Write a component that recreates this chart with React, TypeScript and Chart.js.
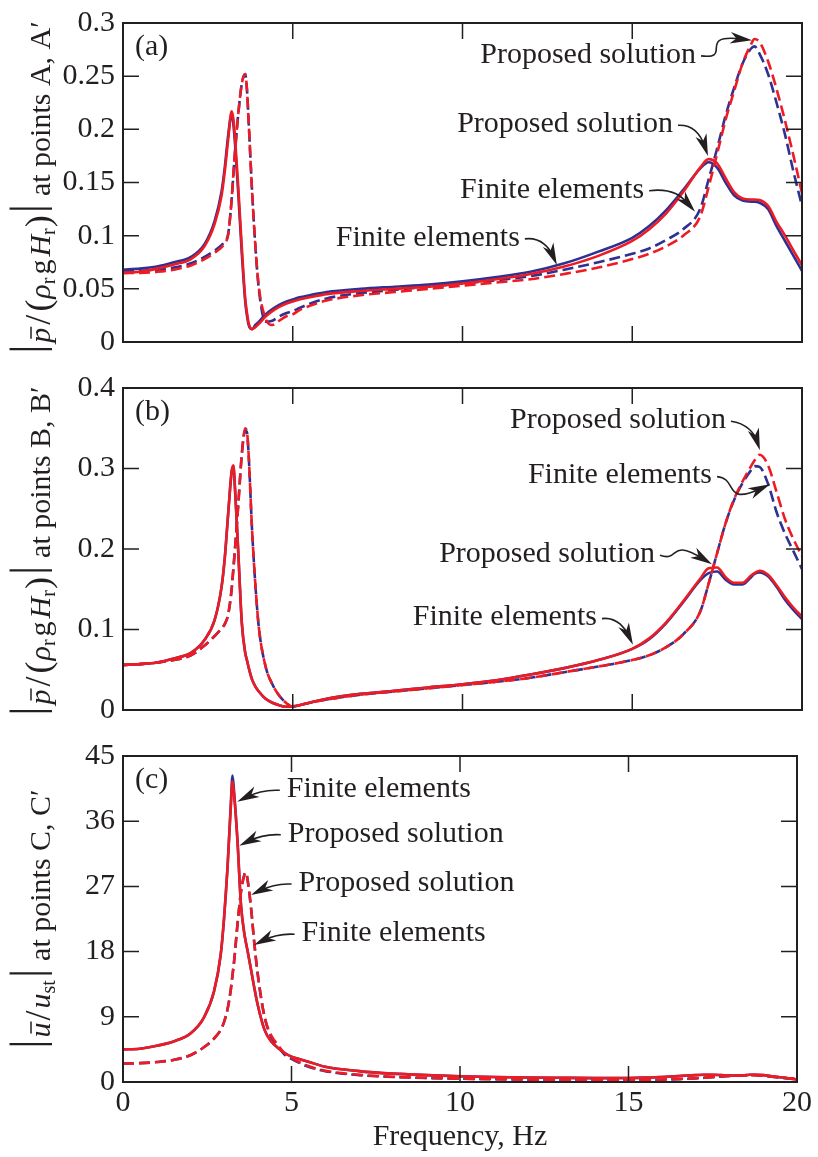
import React, { useEffect, useRef } from 'react';
import { Chart, registerables } from 'chart.js';

Chart.register(...registerables);

const FONT = "'Liberation Serif', 'Times New Roman', Times, serif";
const INK = '#231f20';
const BLUE = '#2e3192';
const RED = '#ed1c24';
const TICK = 16;
const FS = 30;

// ---------- data ----------
const freq = [
  0, 0.5, 1, 1.5, 2,
  2.4, 2.7, 2.9, 3.0, 3.1,
  3.2, 3.25, 3.3, 3.4, 3.5,
  3.6, 3.65, 3.7, 3.8, 3.9,
  4.0, 4.2, 4.4, 4.6, 4.8,
  5.0, 5.2, 5.5, 6, 7,
  8, 9, 10, 11, 12,
  13, 14, 15, 15.5, 16,
  16.5, 17, 17.25, 17.5, 17.75,
  18, 18.25, 18.5, 18.6, 18.75,
  19, 19.25, 19.5, 19.75, 20,
];

const xTicks = [0, 5, 10, 15, 20];
const xTitle = 'Frequency, Hz';

// panel (a)
const aTicks = [0, 0.05, 0.1, 0.15, 0.2, 0.25, 0.3];
const aBlueSolid = [
  0.068, 0.069, 0.071, 0.075, 0.080,
  0.092, 0.114, 0.141, 0.165, 0.195,
  0.214, 0.205, 0.186, 0.137, 0.083,
  0.038, 0.025, 0.016, 0.012, 0.016,
  0.019, 0.026, 0.031, 0.035, 0.038,
  0.040, 0.042, 0.044, 0.047, 0.050,
  0.052, 0.054, 0.057, 0.061, 0.066,
  0.074, 0.085, 0.098, 0.109, 0.124,
  0.143, 0.163, 0.169, 0.164, 0.150,
  0.138, 0.133, 0.132, 0.132, 0.131,
  0.125, 0.109, 0.095, 0.081, 0.067,
];
const aRedSolid = [
  0.065, 0.066, 0.069, 0.073, 0.078,
  0.090, 0.111, 0.137, 0.161, 0.191,
  0.217, 0.210, 0.192, 0.143, 0.089,
  0.041, 0.028, 0.018, 0.012, 0.014,
  0.017, 0.024, 0.029, 0.033, 0.036,
  0.038, 0.040, 0.042, 0.045, 0.048,
  0.050, 0.052, 0.055, 0.059, 0.064,
  0.071, 0.081, 0.095, 0.106, 0.121,
  0.141, 0.164, 0.172, 0.168, 0.154,
  0.141, 0.135, 0.134, 0.134, 0.1335,
  0.128, 0.113, 0.100, 0.086, 0.072,
];
const aBlueDash = [
  0.067, 0.067, 0.068, 0.070, 0.074,
  0.080, 0.086, 0.091, 0.095, 0.102,
  0.134, 0.157, 0.179, 0.216, 0.243,
  0.252, 0.238, 0.208, 0.143, 0.090,
  0.050, 0.019, 0.020, 0.024, 0.027,
  0.029, 0.032, 0.036, 0.041, 0.046,
  0.049, 0.052, 0.055, 0.058, 0.062,
  0.068, 0.075, 0.083, 0.088, 0.096,
  0.106, 0.125, 0.153, 0.182, 0.213,
  0.239, 0.262, 0.276, 0.278, 0.271,
  0.252, 0.225, 0.195, 0.160, 0.128,
];
const aRedDash = [
  0.065, 0.065, 0.066, 0.068, 0.072,
  0.078, 0.084, 0.089, 0.093, 0.101,
  0.134, 0.157, 0.179, 0.216, 0.243,
  0.252, 0.238, 0.208, 0.143, 0.090,
  0.052, 0.022, 0.016, 0.020, 0.024,
  0.026, 0.030, 0.034, 0.039, 0.044,
  0.047, 0.050, 0.053, 0.056, 0.059,
  0.064, 0.070, 0.078, 0.083, 0.090,
  0.100, 0.118, 0.146, 0.177, 0.209,
  0.236, 0.262, 0.280, 0.285, 0.282,
  0.264, 0.238, 0.208, 0.175, 0.140,
];

// panel (b)
const bTicks = [0, 0.1, 0.2, 0.3, 0.4];
const bBlueSolid = [
  0.056, 0.057, 0.059, 0.064, 0.071,
  0.087, 0.112, 0.152, 0.190, 0.245,
  0.296, 0.303, 0.274, 0.192, 0.108,
  0.071, 0.062, 0.053, 0.038, 0.029,
  0.023, 0.014, 0.009, 0.006, 0.004,
  0.0045, 0.006, 0.009, 0.014, 0.020,
  0.024, 0.028, 0.032, 0.037, 0.044,
  0.052, 0.062, 0.076, 0.088, 0.108,
  0.134, 0.161, 0.170, 0.172, 0.162,
  0.156, 0.156, 0.165, 0.169, 0.171,
  0.166, 0.153, 0.137, 0.124, 0.113,
];
const bRedSolid = [
  0.056, 0.057, 0.059, 0.064, 0.071,
  0.087, 0.112, 0.152, 0.190, 0.245,
  0.296, 0.304, 0.275, 0.192, 0.108,
  0.071, 0.062, 0.053, 0.038, 0.029,
  0.023, 0.014, 0.009, 0.006, 0.004,
  0.0045, 0.006, 0.009, 0.014, 0.020,
  0.024, 0.028, 0.032, 0.037, 0.044,
  0.052, 0.062, 0.076, 0.089, 0.109,
  0.135, 0.163, 0.176, 0.177, 0.165,
  0.158, 0.158, 0.167, 0.170, 0.173,
  0.168, 0.155, 0.140, 0.127, 0.116,
];
const bBlueDash = [
  0.056, 0.057, 0.059, 0.062, 0.068,
  0.080, 0.092, 0.101, 0.107, 0.119,
  0.150, 0.175, 0.201, 0.258, 0.318,
  0.347, 0.345, 0.318, 0.225, 0.155,
  0.103, 0.054, 0.032, 0.018, 0.009,
  0.004, 0.006, 0.009, 0.013, 0.019,
  0.023, 0.027, 0.031, 0.035, 0.040,
  0.047, 0.054, 0.062, 0.068, 0.078,
  0.094, 0.122, 0.157, 0.195, 0.232,
  0.261, 0.282, 0.298, 0.303, 0.302,
  0.281, 0.246, 0.219, 0.197, 0.175,
];
const bRedDash = [
  0.056, 0.057, 0.059, 0.062, 0.068,
  0.080, 0.092, 0.101, 0.107, 0.119,
  0.150, 0.175, 0.201, 0.258, 0.318,
  0.350, 0.346, 0.318, 0.225, 0.155,
  0.103, 0.054, 0.032, 0.018, 0.009,
  0.004, 0.006, 0.009, 0.013, 0.019,
  0.023, 0.027, 0.031, 0.035, 0.040,
  0.047, 0.054, 0.062, 0.068, 0.078,
  0.094, 0.122, 0.157, 0.195, 0.232,
  0.262, 0.284, 0.303, 0.310, 0.317,
  0.304, 0.271, 0.237, 0.212, 0.191,
];

// panel (c)
const cTicks = [0, 9, 18, 27, 36, 45];
const cBlueSolid = [
  4.5, 4.6, 5.0, 5.6, 6.7,
  8.9, 12.5, 17.6, 22.7, 29.5,
  38.5, 42.3, 39.8, 33.1, 24.5,
  20.5, 19.2, 18.0, 15.5, 12.9,
  10.6, 7.2, 5.6, 4.7, 4.0,
  3.5, 3.2, 2.8, 2.1, 1.5,
  1.15, 0.95, 0.8, 0.7, 0.63,
  0.58, 0.54, 0.55, 0.6, 0.7,
  0.82, 0.95, 1.0, 1.0, 0.95,
  0.9, 0.88, 0.95, 1.0, 1.0,
  0.95, 0.8, 0.65, 0.5, 0.35,
];
const cRedSolid = [
  4.5, 4.6, 5.0, 5.6, 6.7,
  8.9, 12.5, 17.6, 22.7, 29.5,
  38.0, 41.5, 39.5, 33.0, 24.5,
  20.5, 19.2, 18.0, 15.5, 12.9,
  10.6, 7.2, 5.6, 4.7, 4.0,
  3.5, 3.2, 2.8, 2.1, 1.5,
  1.15, 0.95, 0.8, 0.7, 0.63,
  0.58, 0.54, 0.55, 0.6, 0.7,
  0.82, 0.95, 1.0, 1.0, 0.95,
  0.9, 0.88, 0.95, 1.0, 1.0,
  0.95, 0.8, 0.65, 0.5, 0.35,
];
const cBlueDash = [
  2.55, 2.6, 2.75, 3.05, 3.7,
  4.8, 6.0, 7.2, 8.3, 10.0,
  12.8, 14.8, 16.8, 21.9, 26.2,
  28.6, 28.9, 27.8, 24.0, 19.0,
  14.8, 9.0, 6.2, 4.9, 3.75,
  3.2, 2.7, 2.1, 1.5, 0.95,
  0.7, 0.55, 0.45, 0.38, 0.33,
  0.28, 0.25, 0.25, 0.27, 0.32,
  0.4, 0.5, 0.58, 0.66, 0.74,
  0.82, 0.88, 0.93, 0.95, 0.93,
  0.85, 0.72, 0.6, 0.5, 0.42,
];
const cRedDash = [
  2.55, 2.6, 2.75, 3.05, 3.7,
  4.8, 6.0, 7.2, 8.3, 10.0,
  12.8, 14.8, 16.8, 21.9, 26.2,
  28.6, 28.9, 27.8, 24.0, 19.0,
  14.8, 9.0, 6.4, 5.1, 3.95,
  3.35, 2.8, 2.2, 1.55, 1.0,
  0.72, 0.57, 0.47, 0.4, 0.35,
  0.3, 0.27, 0.27, 0.29, 0.34,
  0.42, 0.52, 0.6, 0.68, 0.76,
  0.84, 0.9, 0.95, 0.97, 0.95,
  0.87, 0.74, 0.62, 0.52, 0.44,
];

// ---------- annotations ----------
type Note = {
  text: string;
  at: [number, number];
  align: 'left' | 'right';
  target: [number, number];
  c1: [number, number];
  c2: [number, number];
};

const notesA: Note[] = [
  { text: 'Proposed solution', at: [16.88, 0.27], align: 'right', target: [18.53, 0.2837], c1: [33, 4], c2: [-57, -7] },
  { text: 'Proposed solution', at: [16.2, 0.2048], align: 'right', target: [17.23, 0.1749], c1: [18, -1], c2: [-6, -18] },
  { text: 'Finite elements', at: [15.35, 0.1432], align: 'right', target: [16.85, 0.1224], c1: [24, -3], c2: [-13, -15] },
  { text: 'Finite elements', at: [11.69, 0.0979], align: 'right', target: [12.78, 0.0725], c1: [17, -2], c2: [-7, -16] },
];
const notesB: Note[] = [
  { text: 'Proposed solution', at: [17.76, 0.36], align: 'right', target: [18.76, 0.3227], c1: [16, 2], c2: [-5, -16] },
  { text: 'Finite elements', at: [17.35, 0.2912], align: 'right', target: [19.06, 0.2804], c1: [22, 2], c2: [-48, 22] },
  { text: 'Proposed solution', at: [15.67, 0.1934], align: 'right', target: [17.35, 0.181], c1: [21, 7], c2: [-44, -27] },
  { text: 'Finite elements', at: [13.96, 0.1148], align: 'right', target: [15.02, 0.081], c1: [16, -2], c2: [-7, -15] },
];
const notesC: Note[] = [
  { text: 'Finite elements', at: [4.86, 40.4], align: 'left', target: [3.39, 38.7], c1: [-16, -1], c2: [14, -7] },
  { text: 'Proposed solution', at: [4.89, 34.26], align: 'left', target: [3.45, 32.6], c1: [-16, -1], c2: [14, -7] },
  { text: 'Proposed solution', at: [5.21, 27.46], align: 'left', target: [3.8, 25.8], c1: [-16, -1], c2: [14, -7] },
  { text: 'Finite elements', at: [5.3, 20.53], align: 'left', target: [3.89, 18.9], c1: [-16, -1], c2: [14, -7] },
];

// ---------- rich axis titles ----------
type Seg = { t: string; it?: boolean; size?: number; dy?: number; gap?: number; bar?: boolean };

const titleA: Seg[] = [
  { t: '|', size: 46, dy: -8, gap: 2 },
  { t: 'p', it: true, bar: true, gap: 3 },
  { t: '/', size: 36, gap: 3 },
  { t: '(', size: 36, gap: 1 },
  { t: 'ρ', it: true },
  { t: 'r', size: 20, dy: 5, gap: 3 },
  { t: 'g', gap: 3 },
  { t: 'H', it: true },
  { t: 'r', size: 20, dy: 5, gap: 1 },
  { t: ')', size: 36, gap: 2 },
  { t: '|', size: 46, dy: -8, gap: 8 },
  { t: 'at points A, A′' },
];
const titleB: Seg[] = titleA.slice(0, 11).concat([{ t: 'at points B, B′' }]);
const titleC: Seg[] = [
  { t: '|', size: 46, dy: -8, gap: 2 },
  { t: 'u', it: true, bar: true, gap: 2 },
  { t: '/', size: 36, gap: 2 },
  { t: 'u', it: true },
  { t: 'st', size: 20, dy: 5, gap: 2 },
  { t: '|', size: 46, dy: -8, gap: 8 },
  { t: 'at points C, C′' },
];

function segFont(s: Seg) {
  return `${s.it ? 'italic ' : ''}${s.size || FS}px ${FONT}`;
}

function drawRich(ctx: CanvasRenderingContext2D, segs: Seg[], bx: number, cy: number) {
  const widths: number[] = [];
  let total = 0;
  for (const s of segs) {
    ctx.font = segFont(s);
    const w = ctx.measureText(s.t).width + (s.gap || 0);
    widths.push(w);
    total += w;
  }
  ctx.save();
  ctx.translate(bx, cy);
  ctx.rotate(-Math.PI / 2);
  ctx.fillStyle = INK;
  ctx.strokeStyle = INK;
  ctx.textAlign = 'left';
  ctx.textBaseline = 'alphabetic';
  let x = -total / 2;
  segs.forEach((s, i) => {
    ctx.font = segFont(s);
    ctx.fillText(s.t, x, s.dy || 0);
    if (s.bar) {
      const w = ctx.measureText(s.t).width;
      ctx.lineWidth = 1.5;
      ctx.beginPath();
      ctx.moveTo(x + 4, -19);
      ctx.lineTo(x + w + 1, -19);
      ctx.stroke();
    }
    x += widths[i];
  });
  ctx.restore();
}

function drawArrow(ctx: CanvasRenderingContext2D, sx: number, sy: number, c1x: number, c1y: number,
  c2x: number, c2y: number, ex: number, ey: number) {
  const ang = Math.atan2(ey - c2y, ex - c2x);
  const cos = Math.cos(ang), sin = Math.sin(ang);
  const L = 22, W = 5.8;
  ctx.lineWidth = 1.6;
  ctx.beginPath();
  ctx.moveTo(sx, sy);
  ctx.bezierCurveTo(c1x, c1y, c2x, c2y, ex - cos * 10, ey - sin * 10);
  ctx.stroke();
  ctx.beginPath();
  ctx.moveTo(ex, ey);
  ctx.lineTo(ex - cos * L - sin * W, ey - sin * L + cos * W);
  ctx.lineTo(ex - cos * L * 0.72, ey - sin * L * 0.72);
  ctx.lineTo(ex - cos * L + sin * W, ey - sin * L - cos * W);
  ctx.closePath();
  ctx.fill();
}

type PanelCfg = {
  key: string;
  label: string;
  top: number;
  height: number;
  padTop: number;
  axisH: number;
  yMax: number;
  yTicks: number[];
  showX: boolean;
  series: { vals: number[]; color: string; dashed: boolean }[];
  notes: Note[];
  title: Seg[];
  titleShift: number;
};

const PANELS: PanelCfg[] = [
  {
    key: 'a', label: '(a)', top: 0, height: 365, padTop: 17, axisH: 17, yMax: 0.3, yTicks: aTicks, showX: false,
    series: [
      { vals: aRedDash, color: RED, dashed: true },
      { vals: aRedSolid, color: RED, dashed: false },
      { vals: aBlueDash, color: BLUE, dashed: true },
      { vals: aBlueSolid, color: BLUE, dashed: false },
    ],
    notes: notesA, title: titleA, titleShift: 5,
  },
  {
    key: 'b', label: '(b)', top: 365, height: 368, padTop: 19, axisH: 18, yMax: 0.4, yTicks: bTicks, showX: false,
    series: [
      { vals: bRedDash, color: RED, dashed: true },
      { vals: bRedSolid, color: RED, dashed: false },
      { vals: bBlueDash, color: BLUE, dashed: true },
      { vals: bBlueSolid, color: BLUE, dashed: false },
    ],
    notes: notesB, title: titleB, titleShift: 2,
  },
  {
    key: 'c', label: '(c)', top: 733, height: 424, padTop: 18, axisH: 75, yMax: 45, yTicks: cTicks, showX: true,
    series: [
      { vals: cRedDash, color: RED, dashed: true },
      { vals: cRedSolid, color: RED, dashed: false },
      { vals: cBlueDash, color: BLUE, dashed: true },
      { vals: cBlueSolid, color: BLUE, dashed: false },
    ],
    notes: notesC, title: titleC, titleShift: 0,
  },
];

function makeDecor(cfg: PanelCfg) {
  return {
    id: 'decor_' + cfg.key,
    afterDraw(chart: any) {
      const { ctx, chartArea: a } = chart;
      const xs = chart.scales.x, ys = chart.scales.y;
      ctx.save();
      ctx.strokeStyle = INK;
      ctx.fillStyle = INK;
      ctx.lineWidth = 2;
      ctx.strokeRect(a.left, a.top, a.right - a.left, a.bottom - a.top);
      ctx.lineWidth = 1.5;
      ctx.beginPath();
      for (const t of xs.ticks) {
        const p = xs.getPixelForValue(t.value);
        if (p <= a.left + 1 || p >= a.right - 1) continue;
        ctx.moveTo(p, a.bottom); ctx.lineTo(p, a.bottom - TICK);
        ctx.moveTo(p, a.top); ctx.lineTo(p, a.top + TICK);
      }
      for (const t of ys.ticks) {
        const p = ys.getPixelForValue(t.value);
        if (p >= a.bottom - 1 || p <= a.top + 1) continue;
        ctx.moveTo(a.left, p); ctx.lineTo(a.left + TICK, p);
        ctx.moveTo(a.right, p); ctx.lineTo(a.right - TICK, p);
      }
      ctx.stroke();

      ctx.font = `${FS}px ${FONT}`;
      ctx.textBaseline = 'middle';
      ctx.textAlign = 'left';
      ctx.fillText(cfg.label, a.left + 12, a.top + 24);

      for (const n of cfg.notes) {
        const tx = xs.getPixelForValue(n.at[0]);
        const ty = ys.getPixelForValue(n.at[1]);
        ctx.font = `${FS}px ${FONT}`;
        ctx.textAlign = n.align;
        ctx.textBaseline = 'middle';
        ctx.fillText(n.text, tx, ty);
        const sx = tx + (n.align === 'right' ? 5 : -7);
        const sy = ty + 1;
        const ex = xs.getPixelForValue(n.target[0]);
        const ey = ys.getPixelForValue(n.target[1]);
        drawArrow(ctx, sx, sy, sx + n.c1[0], sy + n.c1[1], ex + n.c2[0], ey + n.c2[1], ex, ey);
      }

      drawRich(ctx, cfg.title, 50, (a.top + a.bottom) / 2 + cfg.titleShift);
      ctx.restore();
    },
  };
}

function fmt(v: number) {
  return String(+Number(v).toFixed(2));
}

function Panel({ cfg }: { cfg: PanelCfg }) {
  const ref = useRef<HTMLCanvasElement>(null);
  useEffect(() => {
    if (!ref.current) return;
    const chart = new Chart(ref.current, {
      type: 'line',
      data: {
        datasets: cfg.series.map((s) => ({
          data: freq.map((f, i) => ({ x: f, y: s.vals[i] })),
          borderColor: s.color,
          backgroundColor: s.color,
          borderWidth: 2.6,
          borderDash: s.dashed ? [11, 5] : [],
          pointRadius: 0,
          fill: false,
          cubicInterpolationMode: 'monotone' as const,
        })),
      },
      options: {
        responsive: false,
        animation: false,
        devicePixelRatio: 1,
        events: [],
        layout: { padding: { top: cfg.padTop, right: 16, bottom: 0, left: 0 } },
        plugins: { legend: { display: false }, tooltip: { enabled: false } },
        scales: {
          x: {
            type: 'linear',
            min: 0,
            max: 20,
            grid: { display: false, drawTicks: false },
            border: { display: false },
            afterBuildTicks: (s: any) => { s.ticks = xTicks.map((v) => ({ value: v })); },
            afterFit: (s: any) => { s.height = cfg.axisH; },
            ticks: {
              display: cfg.showX,
              padding: 6,
              color: INK,
              font: { family: FONT, size: FS, lineHeight: 1 },
              maxRotation: 0,
              callback: (v: any) => fmt(v),
            },
            title: {
              display: cfg.showX,
              text: xTitle,
              color: INK,
              font: { family: FONT, size: FS, lineHeight: 1.2 },
              padding: { top: 0, bottom: 2 },
            },
          },
          y: {
            type: 'linear',
            min: 0,
            max: cfg.yMax,
            grid: { display: false, drawTicks: false },
            border: { display: false },
            afterBuildTicks: (s: any) => { s.ticks = cfg.yTicks.map((v) => ({ value: v })); },
            afterFit: (s: any) => { s.width = 123; },
            ticks: {
              padding: 8,
              color: INK,
              font: { family: FONT, size: FS, lineHeight: 1 },
              callback: (v: any) => fmt(v),
            },
          },
        },
      } as any,
      plugins: [makeDecor(cfg)],
    });
    return () => chart.destroy();
  }, [cfg]);
  return (
    <canvas
      ref={ref}
      width={818}
      height={cfg.height}
      style={{ position: 'absolute', left: 0, top: cfg.top, width: 818, height: cfg.height, display: 'block' }}
    />
  );
}

export default function App() {
  return (
    <div style={{ position: 'absolute', left: 0, top: 0, width: 818, height: 1157, background: '#ffffff', overflow: 'hidden' }}>
      {PANELS.map((p) => (
        <Panel key={p.key} cfg={p} />
      ))}
    </div>
  );
}
